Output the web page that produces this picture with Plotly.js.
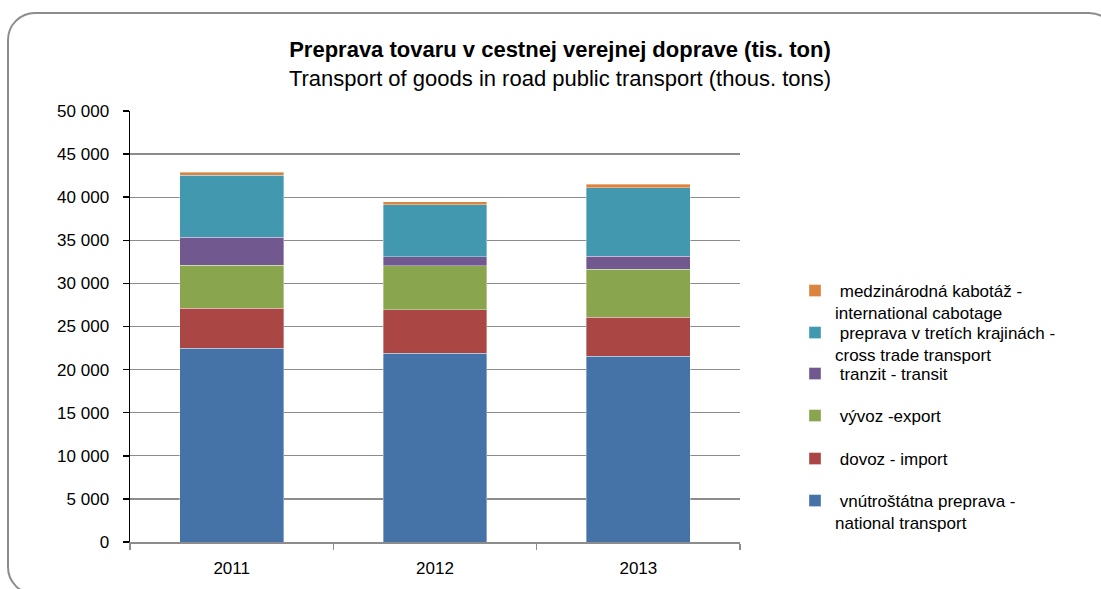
<!DOCTYPE html>
<html>
<head>
<meta charset="utf-8">
<script src="https://cdn.plot.ly/plotly-3.0.1.min.js"></script>
<style>
  html, body { margin: 0; padding: 0; background: #fff; overflow: hidden; }
  #wrap { position: relative; width: 1101px; height: 589px; }
  #chart { position: absolute; left: 0; top: 0; width: 1101px; height: 589px; }
  #frame { position: absolute; left: 7px; top: 12px; width: 1110px; height: 583px;
           border: 2px solid #8c8c8c; border-radius: 28px; pointer-events: none; box-sizing: border-box; }
</style>
</head>
<body>
<div id="wrap">
  <div id="chart"></div>
  <div id="frame"></div>
</div>
<script>
// ---- data (thousand tons) ----
const years = ["2011", "2012", "2013"];
const national = [22470, 21890, 21540];
const importV  = [4630, 5060, 4530];
const exportV  = [5000, 5070, 5600];
const transit  = [3280, 1080, 1470];
const crossTrade = [7160, 6030, 7960];
const cabotage = [380, 350, 400];

const seriesNames = [
  "\u00a0vn\u00fatro\u0161t\u00e1tna preprava -<br>national transport",
  "\u00a0dovoz - import",
  "\u00a0v\u00fdvoz -export",
  "\u00a0tranzit - transit",
  "\u00a0preprava v tret\u00edch krajin\u00e1ch -<br>cross trade transport",
  "\u00a0medzin\u00e1rodn\u00e1 kabot\u00e1\u017e -<br>international cabotage"
];
const seriesValues = [national, importV, exportV, transit, crossTrade, cabotage];
const seriesColors = ["#4572A7", "#AA4643", "#89A54E", "#71588F", "#4198AF", "#DB843D"];

// ---- layout geometry ----
const W = 1101, H = 589;
const plotL = 130, plotR = 740, plotT = 111, plotB = 542;
const pyToPaper = py => (plotB - py) / (plotB - plotT);
const pxToPaper = px => (px - plotL) / (plotR - plotL);
// legend entry first-line centre, pixels (index matches series order)
const legendY = [499, 457, 414, 372, 331, 289];
const legendLeft = 795;

const font = "Liberation Sans, Arial, sans-serif";

const traces = seriesValues.map((vals, i) => ({
  type: "bar",
  name: seriesNames[i],
  x: years,
  y: vals,
  marker: { color: seriesColors[i], line: { color: "rgba(255,255,255,0.45)", width: 0.8 } },
  legend: i === 0 ? "legend" : "legend" + (i + 1),
  hoverinfo: "x+y+name"
}));

const layout = {
  width: W, height: H,
  margin: { l: plotL, r: W - plotR, t: plotT, b: H - plotB, pad: 0 },
  paper_bgcolor: "rgba(0,0,0,0)",
  plot_bgcolor: "rgba(0,0,0,0)",
  barmode: "stack",
  bargap: 0.49,
  separators: ", ",
  font: { family: font, size: 17, color: "#000" },
  title: {
    text: "<b>Preprava tovaru v cestnej verejnej doprave (tis. ton)</b><br>Transport of goods in road public transport (thous. tons)",
    font: { family: font, size: 22, color: "#000" },
    xref: "container", x: 560 / W, xanchor: "center",
    yref: "container", y: 1 - 57 / H, yanchor: "top"
  },
  xaxis: {
    type: "category",
    showgrid: false,
    showline: true, linecolor: "#8c8c8c", linewidth: 1.5,
    ticks: "outside", tickson: "boundaries", ticklen: 6, tickcolor: "#8c8c8c", tickwidth: 1.5,
    ticklabelstandoff: 10,
    tickfont: { family: font, size: 17, color: "#000" },
    zeroline: false, fixedrange: true
  },
  yaxis: {
    range: [0, 50000],
    dtick: 5000,
    tickformat: ",d",
    showgrid: true, gridcolor: "#8c8c8c", gridwidth: 1.3,
    showline: true, linecolor: "#000", linewidth: 1.5,
    ticks: "outside", ticklen: 6, tickcolor: "#000", tickwidth: 1.5,
    ticklabelstandoff: 10,
    tickfont: { family: font, size: 17, color: "#000" },
    zeroline: false, fixedrange: true
  },
  showlegend: true
};

legendY.forEach((py, i) => {
  const key = i === 0 ? "legend" : "legend" + (i + 1);
  layout[key] = {
    x: pxToPaper(legendLeft), xanchor: "left",
    y: pyToPaper(py - 16), yanchor: "top",
    valign: "top",
    bgcolor: "rgba(0,0,0,0)",
    borderwidth: 0,
    font: { family: font, size: 17, color: "#000" }
  };
});

Plotly.newPlot("chart", traces, layout, { displayModeBar: false, staticPlot: true });
</script>
</body>
</html>
